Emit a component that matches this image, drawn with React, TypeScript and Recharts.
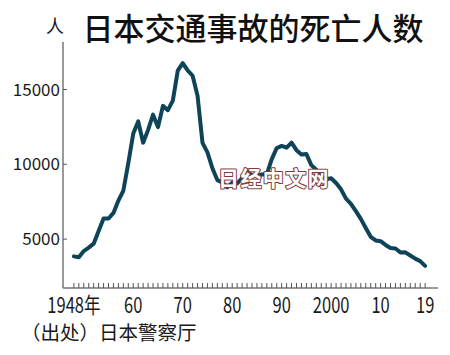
import React from 'react'
import { LineChart, Line, XAxis, YAxis } from 'recharts'

// 交通事故死亡人数（24時間以内）
const years = [
  1948, 1949, 1950, 1951, 1952, 1953, 1954, 1955, 1956, 1957, 1958, 1959,
  1960, 1961, 1962, 1963, 1964, 1965, 1966, 1967, 1968, 1969, 1970, 1971,
  1972, 1973, 1974, 1975, 1976, 1977, 1978, 1979, 1980, 1981, 1982, 1983,
  1984, 1985, 1986, 1987, 1988, 1989, 1990, 1991, 1992, 1993, 1994, 1995,
  1996, 1997, 1998, 1999, 2000, 2001, 2002, 2003, 2004, 2005, 2006, 2007,
  2008, 2009, 2010, 2011, 2012, 2013, 2014, 2015, 2016, 2017, 2018, 2019,
]
const deaths = [
  3848, 3790, 4202, 4429, 4696, 5544, 6374, 6379, 6751, 7575, 8248, 10079,
  12055, 12865, 11445, 12301, 13318, 12484, 13904, 13618, 14256, 16257, 16765, 16278,
  15918, 14574, 11432, 10792, 9734, 8945, 8783, 8466, 8760, 8719, 9073, 9520,
  9262, 9261, 9317, 9347, 10344, 11086, 11227, 11109, 11452, 10942, 10649, 10684,
  9943, 9640, 9211, 9006, 9066, 8747, 8326, 7702, 7358, 6871, 6352, 5744,
  5155, 4914, 4863, 4611, 4411, 4373, 4113, 4117, 3904, 3694, 3532, 3215,
]
const yTicks = [5000, 10000, 15000]
const xLabels: Record<number, string> = {
  1948: '1948年', 1960: '60', 1970: '70', 1980: '80',
  1990: '90', 2000: '2000', 2010: '10', 2019: '19',
}

const data = years.map((y, i) => ({ year: y, deaths: deaths[i] }))

const FONT = '"Noto Sans CJK SC", "Noto Sans", sans-serif'

const XTick = (props: any) => {
  const { x, y, payload } = props
  const label = xLabels[payload.value]
  return (
    <g>
      <line x1={x} y1={y} x2={x} y2={y - 5} stroke="#555" strokeWidth={1} />
      {label && (
        <text
          transform={`translate(${x},${y + 25}) scale(0.75,1)`}
          textAnchor="middle"
          fontSize={22}
          fontFamily={FONT}
          fill="#1a1a1a"
        >
          {label}
        </text>
      )}
    </g>
  )
}

const YTick = (props: any) => {
  const { x, y, payload } = props
  return (
    <g>
      <line x1={x + 3} y1={y} x2={x + 7} y2={y} stroke="#555" strokeWidth={1} />
      <text x={x} y={y} dy="0.36em" textAnchor="end" fontSize={17} fontFamily={FONT} fill="#1a1a1a">
        {payload.value}
      </text>
    </g>
  )
}

export default function App() {
  return (
    <div style={{ position: 'absolute', left: 0, top: 0, width: 450, height: 355, background: '#fff' }}>
      <LineChart
        width={450}
        height={355}
        data={data}
        margin={{ top: 42, right: 12, bottom: 0, left: 0 }}
      >
        <XAxis
          dataKey="year"
          type="number"
          domain={[1945.8, 2021.6]}
          ticks={years}
          interval={0}
          height={67}
          tickSize={0}
          tickMargin={0}
          tickLine={false}
          axisLine={{ stroke: '#777', strokeWidth: 1.5 }}
          tick={<XTick />}
          allowDataOverflow
        />
        <YAxis
          type="number"
          domain={[1733, 18173]}
          ticks={yTicks}
          width={63}
          tickSize={0}
          tickMargin={3}
          tickLine={false}
          axisLine={{ stroke: '#777', strokeWidth: 1.5 }}
          tick={<YTick />}
          allowDataOverflow
        />
        <Line
          dataKey="deaths"
          type="linear"
          stroke="#0e4358"
          strokeWidth={4}
          strokeLinejoin="round"
          strokeLinecap="round"
          dot={false}
          isAnimationActive={false}
        />
        <text x={55} y={27} dy="0.35em" textAnchor="middle" fontSize={18} fontFamily={FONT} fill="#1a1a1a">
          人
        </text>
        <text x={253} y={29.5} dy="0.35em" textAnchor="middle" fontSize={31} fontWeight={500} fontFamily={FONT} fill="#111">
          日本交通事故的死亡人数
        </text>
        <text x={21} y={333} dy="0.35em" fontSize={19.5} fontFamily={FONT} fill="#1a1a1a">
          （出处）日本警察厅
        </text>
      </LineChart>
      {/* 水印 */}
      <svg
        width={450}
        height={355}
        style={{ position: 'absolute', left: 0, top: 0, pointerEvents: 'none' }}
      >
        <text
          x={274}
          y={179}
          dy="0.35em"
          textAnchor="middle"
          fontSize={21}
          fontWeight={700}
          letterSpacing={1.4}
          fontFamily={FONT}
          fill="#fff"
          stroke="#7d3a3a"
          strokeWidth={2}
          strokeLinejoin="round"
          paintOrder="stroke"
        >
          日经中文网
        </text>
      </svg>
    </div>
  )
}
